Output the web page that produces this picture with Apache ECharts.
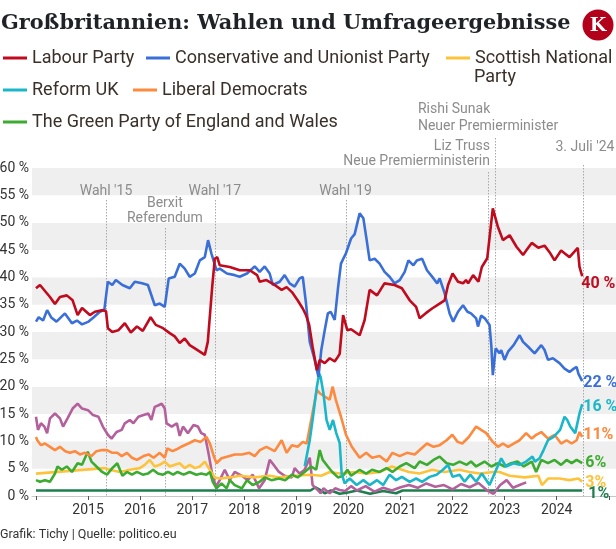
<!DOCTYPE html>
<html>
<head>
<meta charset="utf-8">
<script src="https://cdn.jsdelivr.net/npm/echarts@6/dist/echarts.min.js"></script>
<style>
html,body{margin:0;padding:0;background:#fff;}
#chart{width:616px;height:549px;}
</style>
</head>
<body>
<div id="chart"></div>
<script>
// ---- Data (poll values in %) ----
const labour = [
['2014-01-01',38.0],['2014-01-29',38.6],['2014-03-05',37.5],['2014-04-09',36.4],['2014-05-14',35.1],['2014-06-18',36.4],
['2014-08-05',36.7],['2014-09-15',35.8],['2014-10-20',33.1],['2014-11-20',34.4],['2015-01-14',33.1],['2015-02-18',33.7],
['2015-04-15',34.0],['2015-05-07',33.8],['2015-05-20',30.7],['2015-06-20',30.0],['2015-08-01',30.3],['2015-09-16',31.6],
['2015-10-28',29.9],['2015-12-10',31.0],['2016-01-20',30.2],['2016-03-15',32.7],['2016-04-20',31.3],['2016-06-10',30.7],
['2016-07-27',29.8],['2016-08-31',29.2],['2016-10-05',28.0],['2016-11-09',28.8],['2016-12-14',27.6],['2017-01-19',27.0],
['2017-02-23',26.4],['2017-03-30',25.8],['2017-04-20',28.2],['2017-05-20',38.0],['2017-06-08',43.4],['2017-06-25',43.7],
['2017-07-13',42.2],['2017-09-21',41.9],['2017-11-30',41.3],['2018-02-08',41.3],['2018-04-01',40.4],['2018-04-19',39.2],
['2018-06-05',39.5],['2018-08-02',38.6],['2018-09-20',37.7],['2018-10-25',38.2],['2018-12-01',37.3],['2019-01-10',35.8],
['2019-02-15',34.3],['2019-03-10',33.1],['2019-04-01',31.3],['2019-04-25',27.3],['2019-05-25',23.0],['2019-06-14',24.9],
['2019-07-19',24.3],['2019-08-23',25.2],['2019-09-27',24.6],['2019-10-20',25.5],['2019-11-01',26.0],['2019-11-25',33.1],
['2019-12-25',30.3],['2020-01-20',30.5],['2020-03-20',29.4],['2020-04-24',32.2],['2020-05-29',37.7],['2020-07-20',36.7],
['2020-09-10',38.9],['2020-11-20',38.6],['2021-01-10',38.0],['2021-03-06',35.8],['2021-04-20',34.6],['2021-05-15',32.5],
['2021-06-25',33.4],['2021-08-10',34.3],['2021-10-02',35.2],['2021-11-06',35.8],['2021-11-30',38.6],['2022-01-01',40.7],
['2022-02-08',39.2],['2022-03-15',38.9],['2022-04-05',39.5],['2022-04-20',38.9],['2022-05-25',40.4],['2022-07-01',39.2],
['2022-07-25',41.9],['2022-09-01',43.5],['2022-10-10',52.6],['2022-11-15',49.2],['2022-12-20',46.8],['2023-02-05',47.7],
['2023-03-25',45.6],['2023-05-10',44.1],['2023-06-01',44.9],['2023-07-10',46.3],['2023-08-25',45.4],['2023-10-08',45.8],
['2023-11-12',44.6],['2023-12-17',43.1],['2024-02-01',44.9],['2024-02-25',44.4],['2024-03-31',43.7],['2024-05-28',45.4],
['2024-06-09',41.9],['2024-06-28',40.2]
];
const conservative = [
['2014-01-01',31.9],['2014-01-20',32.7],['2014-02-20',32.1],['2014-03-20',34.0],['2014-04-20',32.6],['2014-05-25',31.9],
['2014-07-23',33.4],['2014-09-10',31.6],['2014-10-15',32.1],['2014-11-20',31.4],['2015-01-05',31.9],['2015-02-10',32.7],
['2015-03-25',33.7],['2015-04-25',34.0],['2015-05-08',34.2],['2015-05-20',39.2],['2015-06-20',38.6],['2015-07-15',39.5],
['2015-08-30',38.6],['2015-10-21',38.0],['2015-11-25',39.2],['2016-01-15',38.9],['2016-02-25',38.6],['2016-04-13',34.9],
['2016-05-18',35.2],['2016-06-22',34.6],['2016-07-20',39.8],['2016-08-31',40.1],['2016-10-05',42.5],['2016-11-09',41.6],
['2016-12-14',40.1],['2017-01-19',40.7],['2017-02-23',43.1],['2017-03-30',43.7],['2017-04-22',46.8],['2017-05-15',44.4],
['2017-06-20',41.3],['2017-07-13',41.6],['2017-09-01',40.7],['2017-10-26',40.4],['2017-11-30',40.1],['2018-01-20',40.7],
['2018-03-15',42.0],['2018-04-19',41.0],['2018-05-24',42.0],['2018-06-28',40.7],['2018-07-20',38.6],['2018-09-06',39.2],
['2018-10-11',40.4],['2018-11-15',38.9],['2018-12-20',38.3],['2019-01-24',39.8],['2019-02-15',40.1],['2019-03-10',35.2],
['2019-04-05',28.2],['2019-05-10',24.9],['2019-06-05',21.8],['2019-06-25',26.7],['2019-07-19',30.3],['2019-08-10',33.4],
['2019-08-30',33.7],['2019-09-27',32.2],['2019-10-20',38.0],['2019-11-10',42.5],['2019-12-15',44.4],['2020-01-20',47.1],
['2020-02-14',47.9],['2020-03-20',51.7],['2020-04-15',50.8],['2020-05-05',47.4],['2020-05-29',43.1],['2020-07-03',43.4],
['2020-08-07',42.5],['2020-09-11',41.0],['2020-10-16',40.1],['2020-11-20',38.9],['2020-12-26',39.5],['2021-01-30',41.0],
['2021-02-25',43.1],['2021-04-01',42.2],['2021-04-25',43.1],['2021-06-01',43.4],['2021-07-05',41.3],['2021-08-20',39.8],
['2021-09-15',38.9],['2021-10-02',39.8],['2021-11-06',37.1],['2021-12-11',33.4],['2022-01-05',31.9],['2022-02-08',33.7],
['2022-03-15',34.9],['2022-04-15',33.7],['2022-05-10',33.4],['2022-06-15',32.5],['2022-06-28',31.0],['2022-07-20',33.0],
['2022-08-15',32.5],['2022-09-17',31.3],['2022-09-30',27.3],['2022-10-10',22.1],['2022-10-30',27.0],['2022-11-26',26.1],
['2022-12-08',26.7],['2022-12-31',24.9],['2023-01-25',26.4],['2023-03-05',27.6],['2023-04-16',29.4],['2023-05-10',28.2],
['2023-06-15',27.3],['2023-07-30',26.1],['2023-09-15',27.6],['2023-10-08',26.7],['2023-11-01',24.9],['2023-12-05',25.2],
['2024-01-21',24.3],['2024-02-25',23.3],['2024-03-31',22.7],['2024-04-30',23.3],['2024-05-20',23.6],['2024-06-01',22.4],
['2024-06-28',21.0]
];
const snp = [
['2014-01-01',4.1],['2015-04-25',5.1],['2015-06-03',4.8],['2015-08-12',4.4],['2015-10-21',4.8],['2015-12-30',5.1],
['2016-02-03',5.7],['2016-03-09',6.6],['2016-04-13',5.4],['2016-05-18',5.7],['2016-06-22',6.3],['2016-07-27',5.4],
['2016-08-31',5.7],['2016-10-05',6.0],['2016-11-09',5.1],['2016-12-14',5.7],['2017-01-19',5.1],['2017-02-23',5.4],
['2017-03-30',6.3],['2017-05-04',4.8],['2017-06-08',3.4],['2017-07-13',3.2],['2017-09-21',3.4],['2017-11-30',3.7],
['2018-03-15',3.4],['2018-06-28',3.7],['2018-09-06',3.4],['2018-12-20',3.7],['2019-04-05',3.9],['2019-06-25',3.7],
['2019-08-23',4.4],['2019-11-01',4.1],['2020-02-14',4.4],['2020-05-01',4.1],['2020-08-07',4.4],['2020-11-01',5.4],
['2021-03-01',4.4],['2021-05-15',4.1],['2021-08-10',4.8],['2021-11-06',4.4],['2022-02-19',4.8],['2022-04-30',4.4],
['2022-07-09',4.1],['2022-10-10',4.4],['2022-11-26',4.4],['2023-02-05',3.7],['2023-05-21',3.4],['2023-08-25',3.7],
['2023-09-20',2.0],['2023-11-01',3.2],['2024-01-21',3.2],['2024-03-31',2.9],['2024-06-01',3.2],['2024-06-28',2.6]
];
const reform = [
['2019-03-01',5.5],['2019-04-05',10.2],['2019-05-01',15.1],['2019-05-25',20.0],['2019-06-10',22.4],['2019-06-20',21.8],
['2019-07-10',18.8],['2019-08-01',13.9],['2019-08-23',12.1],['2019-09-15',13.9],['2019-10-08',11.5],['2019-11-01',9.7],
['2019-11-15',4.1],['2019-12-06',2.3],['2020-01-10',3.2],['2020-02-28',2.0],['2020-04-15',2.9],['2020-05-29',2.0],
['2020-07-20',2.9],['2020-09-01',2.0],['2020-10-16',3.9],['2020-12-01',2.9],['2021-01-10',3.5],['2021-03-06',2.6],
['2021-04-20',3.2],['2021-06-01',2.6],['2021-07-24',3.5],['2021-09-10',3.9],['2021-10-25',4.8],['2021-11-30',5.7],
['2022-01-01',3.5],['2022-02-19',3.9],['2022-03-26',2.6],['2022-05-05',3.9],['2022-06-15',2.6],['2022-07-25',4.1],
['2022-09-17',2.0],['2022-10-22',4.1],['2022-12-08',6.9],['2023-01-10',5.4],['2023-03-05',6.0],['2023-04-16',5.7],
['2023-06-01',6.3],['2023-07-15',7.2],['2023-08-01',6.3],['2023-09-03',6.9],['2023-10-01',8.4],['2023-11-01',10.2],
['2023-12-10',10.8],['2024-01-25',12.1],['2024-02-25',14.5],['2024-03-15',13.9],['2024-04-05',12.7],['2024-05-10',11.5],
['2024-06-09',15.1],['2024-06-28',16.8]
];
const libdem = [
['2014-01-01',10.8],['2014-01-10',10.2],['2014-02-05',9.3],['2014-03-05',9.6],['2014-04-09',9.0],['2014-05-14',8.4],
['2014-06-18',9.0],['2014-07-25',8.2],['2014-08-27',7.9],['2014-10-01',8.2],['2014-11-05',7.6],['2014-12-10',7.9],
['2015-01-25',7.3],['2015-03-01',8.2],['2015-04-10',8.4],['2015-05-14',8.4],['2015-06-20',7.9],['2015-07-25',7.9],
['2015-08-25',7.3],['2015-10-01',7.9],['2015-11-05',7.0],['2015-12-10',6.6],['2016-01-25',7.3],['2016-03-01',7.6],
['2016-04-05',7.0],['2016-05-18',7.9],['2016-06-22',7.0],['2016-07-10',8.7],['2016-08-15',8.2],['2016-09-10',8.5],
['2016-10-15',9.0],['2016-12-05',9.6],['2017-01-19',10.2],['2017-03-01',9.9],['2017-04-10',10.8],['2017-05-05',9.6],
['2017-05-28',7.6],['2017-06-20',6.0],['2017-07-25',6.9],['2017-09-20',7.3],['2017-10-26',7.6],['2017-12-15',7.6],
['2018-02-05',7.9],['2018-03-15',7.3],['2018-04-20',8.4],['2018-06-05',9.0],['2018-08-02',8.2],['2018-09-20',10.2],
['2018-10-25',7.9],['2018-12-01',9.3],['2019-01-10',9.0],['2019-02-15',9.9],['2019-03-15',9.6],['2019-04-15',13.9],
['2019-05-25',19.4],['2019-06-14',18.8],['2019-07-19',18.2],['2019-08-23',17.6],['2019-09-12',20.0],['2019-10-05',17.6],
['2019-11-10',14.5],['2019-12-15',11.2],['2020-01-25',9.0],['2020-03-20',7.0],['2020-05-05',7.9],['2020-06-15',7.0],
['2020-08-07',7.3],['2020-09-25',6.3],['2020-11-05',7.9],['2020-12-26',7.3],['2021-02-15',7.9],['2021-04-10',7.6],
['2021-05-15',8.4],['2021-07-05',9.6],['2021-08-20',9.0],['2021-10-02',9.3],['2021-11-20',10.2],['2021-12-30',11.2],
['2022-02-05',9.9],['2022-03-10',9.6],['2022-04-25',10.8],['2022-06-15',12.7],['2022-07-20',12.1],['2022-08-25',11.5],
['2022-10-10',9.9],['2022-11-15',9.0],['2022-12-20',9.6],['2023-01-25',9.0],['2023-03-05',9.6],['2023-04-16',10.2],
['2023-06-01',11.5],['2023-07-10',10.5],['2023-08-10',11.2],['2023-09-15',11.7],['2023-11-01',10.5],['2023-12-17',11.2],
['2024-02-01',9.6],['2024-03-10',10.2],['2024-04-15',9.6],['2024-05-20',10.2],['2024-06-09',11.7],['2024-06-28',10.8]
];
const green = [
['2014-01-01',2.9],['2014-01-29',2.6],['2014-03-05',2.9],['2014-04-09',2.6],['2014-05-14',4.1],['2014-06-01',5.4],
['2014-07-01',4.8],['2014-08-05',5.4],['2014-09-10',4.4],['2014-10-20',6.0],['2014-11-20',5.7],['2014-12-30',8.1],
['2015-01-25',6.3],['2015-03-01',5.4],['2015-04-10',4.4],['2015-05-14',3.9],['2015-06-20',5.1],['2015-07-25',6.0],
['2015-08-30',3.7],['2015-10-01',4.4],['2015-11-05',3.9],['2015-12-10',4.4],['2016-01-20',3.9],['2016-02-25',4.1],
['2016-04-01',4.8],['2016-05-05',4.1],['2016-06-10',3.9],['2016-07-15',4.4],['2016-08-20',3.9],['2016-09-20',4.4],
['2016-11-01',3.9],['2016-12-14',4.4],['2017-01-30',3.9],['2017-03-05',4.1],['2017-04-10',3.9],['2017-05-05',4.4],
['2017-05-25',2.6],['2017-06-20',1.4],['2017-07-25',2.3],['2017-08-30',1.4],['2017-09-21',2.9],['2017-10-26',2.0],
['2017-12-15',1.4],['2018-01-20',2.9],['2018-03-01',2.0],['2018-04-19',2.6],['2018-05-24',3.4],['2018-07-10',2.9],
['2018-09-01',3.2],['2018-10-15',2.9],['2018-11-30',3.9],['2019-01-10',3.4],['2019-02-28',4.4],['2019-04-15',5.4],
['2019-05-20',4.8],['2019-06-14',8.4],['2019-07-05',6.6],['2019-08-10',5.4],['2019-09-10',4.4],['2019-10-20',3.4],
['2019-11-25',3.7],['2019-12-25',4.8],['2020-01-20',3.7],['2020-03-20',4.8],['2020-05-05',4.1],['2020-06-15',4.8],
['2020-08-07',4.4],['2020-09-25',5.1],['2020-11-05',4.4],['2020-12-26',5.4],['2021-02-10',6.0],['2021-04-10',5.1],
['2021-05-15',6.3],['2021-07-05',5.7],['2021-08-20',6.6],['2021-10-02',7.2],['2021-11-20',6.0],['2022-01-05',5.7],
['2022-02-19',6.3],['2022-04-10',5.7],['2022-05-10',6.3],['2022-06-15',5.4],['2022-08-13',6.3],['2022-09-30',5.4],
['2022-11-15',6.0],['2022-12-31',5.4],['2023-02-15',6.0],['2023-04-01',6.3],['2023-05-15',5.4],['2023-07-10',6.3],
['2023-08-10',4.4],['2023-09-15',6.6],['2023-11-01',6.0],['2023-12-17',6.6],['2024-02-01',5.7],['2024-03-10',6.6],
['2024-04-15',6.0],['2024-05-20',6.6],['2024-06-28',6.0]
];
const ukip = [
['2014-01-01',14.5],['2014-01-15',12.1],['2014-02-05',13.3],['2014-03-01',12.7],['2014-03-20',11.5],['2014-04-09',14.2],
['2014-05-14',15.1],['2014-06-18',14.2],['2014-07-10',12.7],['2014-08-10',14.2],['2014-09-15',16.0],['2014-10-20',16.9],
['2014-11-20',16.0],['2015-01-01',15.7],['2015-02-05',14.8],['2015-03-15',14.5],['2015-04-15',12.7],['2015-05-20',11.2],
['2015-06-15',10.5],['2015-07-20',11.7],['2015-08-25',12.1],['2015-09-16',13.3],['2015-10-21',13.9],['2015-11-15',13.3],
['2015-12-20',14.5],['2016-01-25',14.8],['2016-02-28',15.1],['2016-03-20',13.9],['2016-04-13',16.3],['2016-05-10',16.6],
['2016-06-01',16.9],['2016-06-22',16.0],['2016-07-05',13.3],['2016-08-10',12.7],['2016-09-15',13.3],['2016-10-05',11.0],
['2016-10-28',12.7],['2016-12-01',11.5],['2017-01-10',13.0],['2017-02-10',12.7],['2017-03-05',11.5],['2017-03-30',11.2],
['2017-04-25',7.8],['2017-05-20',4.1],['2017-06-15',1.7],['2017-07-13',2.9],['2017-08-17',4.8],['2017-09-21',2.9],
['2017-10-26',4.4],['2017-12-15',3.7],['2018-01-25',2.9],['2018-03-01',3.9],['2018-04-15',1.4],['2018-05-24',2.9],
['2018-06-28',6.6],['2018-07-20',5.9],['2018-09-01',4.4],['2018-10-11',3.7],['2018-11-30',3.4],['2018-12-20',5.1],
['2019-01-24',4.1],['2019-02-28',4.8],['2019-04-05',7.0],['2019-04-25',2.0],['2019-05-31',1.1],['2019-06-20',0.5],
['2019-07-10',1.4],['2019-08-23',0.5],['2019-09-30',1.4],['2019-11-01',1.1],['2019-12-10',0.9],['2020-01-20',1.8],
['2020-03-01',1.0],['2020-05-01',1.8],['2020-07-01',0.8],['2020-09-01',1.5],['2020-11-01',1.0],['2021-01-01',1.6],
['2021-03-01',2.0],['2021-05-01',1.5],['2021-07-01',2.3],['2021-09-01',1.7],['2021-11-01',2.0],['2022-01-01',1.2],
['2022-03-01',2.2],['2022-05-01',1.6],['2022-07-01',2.4],['2022-09-01',1.0],['2022-10-15',0.4],['2022-12-01',2.0],
['2023-01-15',2.9],['2023-03-01',1.5],['2023-04-15',2.0],['2023-06-01',2.5]
];
const plaid = [
['2014-01-01',1.0],['2019-04-10',1.0],['2019-05-15',1.6],['2019-06-10',1.2],['2019-07-19',0.5],['2019-09-01',1.0],
['2019-11-01',0.4],['2019-12-20',0.6],['2020-03-01',1.0],['2020-06-01',0.4],['2020-09-01',0.9],['2020-12-01',0.5],
['2021-01-15',1.0],['2024-06-28',1.0]
];

const yTicks = [0, 5, 10, 15, 20, 25, 30, 35, 40, 45, 50, 55, 60];
const xYears = [2015, 2016, 2017, 2018, 2019, 2020, 2021, 2022, 2023, 2024];
const eventDates  = ['2015-05-07', '2016-06-23', '2017-06-08', '2019-12-12', '2022-09-06', '2022-10-25', '2024-07-03'];
const eventLabels = ["Wahl '15", 'Berxit\nReferendum', "Wahl '17", "Wahl '19",
                     'Liz Truss\nNeue Premierministerin', 'Rishi Sunak\nNeuer Premierminister', "3. Juli '24"];
const endLabels = {
  'Labour Party': '40 %', 'Conservative and Unionist Party': '22 %', 'Reform UK': '16 %',
  'Liberal Democrats': '11%', 'The Green Party of England and Wales': '6%', 'Scottish National Party': '3%', 'Plaid Cymru': '1%'
};

// ---- Styling ----
const FONT = 'Roboto, "Noto Sans", sans-serif';
const colors = {
  'Labour Party': '#c00a1e', 'Conservative and Unionist Party': '#3b6fd8', 'Scottish National Party': '#fec33c',
  'Reform UK': '#1bb7c9', 'Liberal Democrats': '#fd8a3f', 'The Green Party of England and Wales': '#3dab30',
  'UKIP': '#b4609c', 'Plaid Cymru': '#1e7f4e'
};
const endOffsets = {
  'Labour Party': [-2, 8], 'Conservative and Unionist Party': [0, 2], 'Reform UK': [0, 3],
  'Liberal Democrats': [0, -2], 'The Green Party of England and Wales': [2, 0], 'Scottish National Party': [2, 1], 'Plaid Cymru': [5, 3]
};
const seriesDefs = [
  ['Plaid Cymru', plaid], ['UKIP', ukip], ['Scottish National Party', snp],
  ['The Green Party of England and Wales', green], ['Liberal Democrats', libdem], ['Reform UK', reform],
  ['Conservative and Unionist Party', conservative], ['Labour Party', labour]
];

const chart = echarts.init(document.getElementById('chart'), null, {renderer: 'canvas'});

const legendCommon = {
  icon: 'rect', itemWidth: 24, itemHeight: 3, itemGap: 0, padding: 0, selectedMode: false,
  textStyle: {fontFamily: FONT, fontSize: 18, color: '#3a3029'}
};
function lg(name, left, top, extra) {
  return Object.assign({}, legendCommon, {data: [name], left: left, top: top}, extra || {});
}

const option = {
  animation: false,
  backgroundColor: '#fff',
  title: {
    text: 'Großbritannien: Wahlen und Umfrageergebnisse',
    left: 1, top: 13, padding: 0,
    textStyle: {fontFamily: '"DejaVu Serif", serif', fontWeight: 'bold', fontSize: 20.8, color: '#1f2328'}
  },
  legend: [
    lg('Labour Party', 3, 49),
    lg('Conservative and Unionist Party', 146, 49),
    lg('Scottish National Party', 446, 49, {formatter: 'Scottish National'}),
    lg('Reform UK', 3, 81),
    lg('Liberal Democrats', 133, 81),
    lg('The Green Party of England and Wales', 3, 113)
  ],
  grid: {left: 32, right: 0, top: 168, bottom: 53, outerBoundsMode: 'none', containLabel: false},
  xAxis: {
    type: 'time', min: '2013-12-04', max: '2025-02-20',
    minInterval: 365 * 24 * 3600 * 1000, maxInterval: 366 * 24 * 3600 * 1000,
    axisLine: {show: true, lineStyle: {color: '#c8c8c8', width: 1}},
    axisTick: {show: true, length: 4, lineStyle: {color: '#555'}},
    splitLine: {show: false},
    axisLabel: {
      fontFamily: FONT, fontSize: 14, color: '#333', margin: 7,
      formatter: function (v) {
        const d = new Date(v);
        const y = d.getFullYear();
        return (d.getMonth() === 0 && d.getDate() === 1 && xYears.indexOf(y) >= 0) ? String(y) : '';
      }
    }
  },
  yAxis: {
    type: 'value', min: yTicks[0], max: yTicks[yTicks.length - 1], interval: 5,
    axisLine: {show: false}, axisTick: {show: false},
    splitLine: {show: false},
    splitArea: {show: true, areaStyle: {color: ['#ffffff', '#efefef']}},
    axisLabel: {fontFamily: FONT, fontSize: 14, color: '#333', margin: 3, formatter: '{value} %'}
  },
  series: seriesDefs.map(function (s) {
    const name = s[0];
    const ser = {
      name: name, type: 'line', data: s[1], showSymbol: false, symbol: 'none',
      lineStyle: {width: 2.6, color: colors[name]}, itemStyle: {color: colors[name]},
      emphasis: {disabled: true}, z: 2
    };
    if (endLabels[name]) {
      ser.endLabel = {
        show: true, formatter: endLabels[name], color: colors[name], distance: 1,
        fontFamily: FONT, fontSize: 16, fontWeight: 'bold', offset: endOffsets[name]
      };
    }
    return ser;
  })
};
chart.setOption(option);

// ---- Annotations positioned through the axis scales ----
const y0 = chart.convertToPixel({yAxisIndex: 0}, 0);
const ex = eventDates.map(function (d) { return chart.convertToPixel({xAxisIndex: 0}, d); });
const lineTops = [200, 228, 200, 200, 172, 138, 165];
const annoFont = '14px ' + FONT;
const grey = '#8c8c8c';
const graphics = [];
ex.forEach(function (x, i) {
  graphics.push({
    type: 'line', silent: true, z: 1,
    shape: {x1: Math.round(x) + 0.5, y1: lineTops[i], x2: Math.round(x) + 0.5, y2: y0},
    style: {stroke: '#a8a8a8', lineWidth: 1, lineDash: [1.5, 1.5]}
  });
});
function txt(text, x, y, align, lh, vAlign) {
  return {
    type: 'text', silent: true, z: 10,
    style: {text: text, x: x, y: y, textAlign: align, textVerticalAlign: vAlign || 'middle',
            font: annoFont, fill: grey, lineHeight: lh || 16}
  };
}
graphics.push(txt(eventLabels[0], ex[0], 191, 'center'));
graphics.push(txt(eventLabels[1], ex[1], 196, 'center', 15, 'top'));
graphics.push(txt(eventLabels[2], ex[2], 191, 'center'));
graphics.push(txt(eventLabels[3], ex[3], 191, 'center'));
graphics.push(txt(eventLabels[4], ex[4] + 2, 139, 'right', 15, 'top'));
graphics.push(txt(eventLabels[5], ex[5] - 77, 101, 'left', 17, 'top'));
graphics.push(txt(eventLabels[6], ex[6] + 2, 147, 'center'));
// second line of the wrapped legend entry
graphics.push({type: 'text', silent: true, style: {text: 'Party', x: 474, y: 77, textVerticalAlign: 'middle',
  font: '18px ' + FONT, fill: '#3a3029'}});
// logo
graphics.push({type: 'circle', silent: true, shape: {cx: 598, cy: 25, r: 15.5}, style: {fill: '#b3001b'}});
graphics.push({type: 'text', silent: true, style: {text: 'K', x: 598, y: 26, textAlign: 'center', textVerticalAlign: 'middle',
  font: 'bold 19px "DejaVu Serif", serif', fill: '#fff'}});
// source line
graphics.push({type: 'text', silent: true, style: {text: 'Grafik: Tichy | Quelle: politico.eu', x: 0, y: 535,
  textVerticalAlign: 'middle', font: '12.5px ' + FONT, fill: '#333'}});

chart.setOption({graphic: graphics});
</script>
</body>
</html>
